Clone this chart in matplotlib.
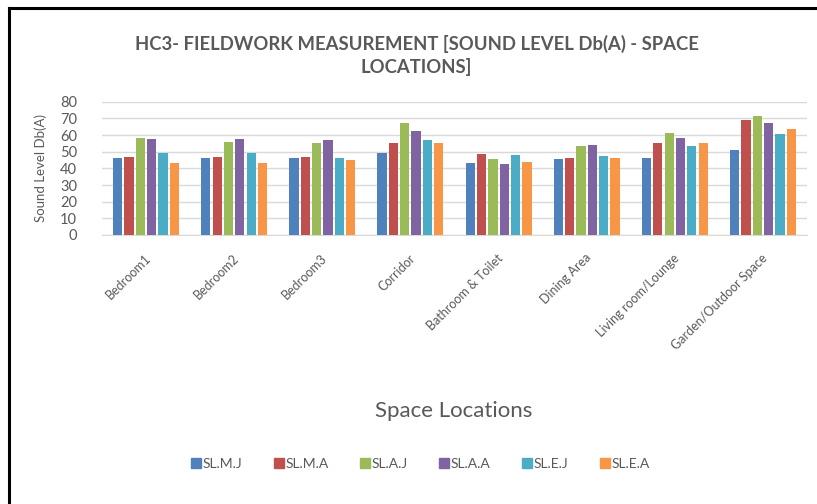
import matplotlib
matplotlib.use("Agg")
import matplotlib.pyplot as plt
import numpy as np
from matplotlib.lines import Line2D

categories = ["Bedroom1", "Bedroom2", "Bedroom3", "Corridor", "Bathroom & Toilet",
              "Dining Area", "Living room/Lounge", "Garden/Outdoor Space"]
series_names = ["SL.M.J", "SL.M.A", "SL.A.J", "SL.A.A", "SL.E.J", "SL.E.A"]
sl_m_j = [46, 46.5, 46, 49, 43.5, 45.5, 46.5, 51]
sl_m_a = [47, 47, 47, 55, 48.5, 46.5, 55, 69]
sl_a_j = [58.5, 56, 55.5, 67.5, 45.5, 53.5, 61.5, 71.5]
sl_a_a = [57.5, 57.5, 57, 62.5, 42.5, 54, 58, 67.5]
sl_e_j = [49, 49, 46.5, 57, 48, 47.5, 53.5, 60.5]
sl_e_a = [43, 43.5, 45, 55.5, 44, 46, 55, 63.5]
series = [sl_m_j, sl_m_a, sl_a_j, sl_a_a, sl_e_j, sl_e_a]
colors = ["#4F81BD", "#C0504D", "#9BBB59", "#8064A2", "#4BACC6", "#F79646"]
yticks = [0, 10, 20, 30, 40, 50, 60, 70, 80]

text_col = "#595959"
font = "Lato"

fig = plt.figure(figsize=(8.17, 5.04), dpi=100)
ax = fig.add_axes([102 / 817, 1 - 235 / 504, (807 - 102) / 817, (235 - 101.7) / 504])

x = np.arange(len(categories))
step = 0.129
width = 0.105
for i, (vals, c) in enumerate(zip(series, colors)):
    ax.bar(x + (i - 2.5) * step, vals, width=width, color=c, label=series_names[i], zorder=3)

ax.set_xlim(-0.5, len(categories) - 0.5)
ax.set_ylim(0, 80)
ax.set_yticks(yticks)
ax.set_yticklabels([str(t) for t in yticks], fontsize=10.5, color=text_col, family=font)
ax.yaxis.grid(True, color="#D9D9D9", linewidth=1.0, zorder=0)
ax.tick_params(axis="y", length=0, pad=18)
ax.tick_params(axis="x", length=0, pad=12)
for s in ["top", "right", "left"]:
    ax.spines[s].set_visible(False)
ax.spines["bottom"].set_color("#D9D9D9")

ax.set_xticks(x - 0.02)
ax.set_xticklabels(categories, rotation=45, ha="right", rotation_mode="anchor",
                   fontsize=9, color=text_col, family=font)

ax.set_ylabel("Sound Level Db(A)", fontsize=9.5, color=text_col, family=font)
ax.yaxis.set_label_coords(-0.078, 0.5)

fig.text(0.51, 1 - 44 / 504, "HC3- FIELDWORK MEASUREMENT [SOUND LEVEL Db(A) - SPACE",
         ha="center", va="center", fontsize=13.3, fontweight="bold", color=text_col, family=font)
fig.text(0.51, 1 - 67 / 504, "LOCATIONS]",
         ha="center", va="center", fontsize=13.3, fontweight="bold", color=text_col, family=font)

fig.text(454 / 817, 1 - 411 / 504, "Space Locations", ha="center", va="center",
         fontsize=16, color=text_col, family=font)

handles = [Line2D([], [], marker="s", linestyle="none", markersize=7.5,
                  markerfacecolor=c, markeredgecolor=c) for c in colors]
fig.legend(handles, series_names, loc="center", bbox_to_anchor=(420 / 817, 1 - 464 / 504),
           ncol=6, frameon=False, handletextpad=0.1, columnspacing=2.2,
           handlelength=0.8, labelcolor=text_col, prop={"family": font, "size": 10})

# frame lines along the top and left edge of the figure
fig.add_artist(Line2D([9 / 817, 9 / 817], [0, 1 - 8 / 504], transform=fig.transFigure,
                      color="black", linewidth=2.2))
fig.add_artist(Line2D([9 / 817, 1], [1 - 8 / 504, 1 - 8 / 504], transform=fig.transFigure,
                      color="black", linewidth=2.2))

fig.savefig("out.png", dpi=100, facecolor="white")
